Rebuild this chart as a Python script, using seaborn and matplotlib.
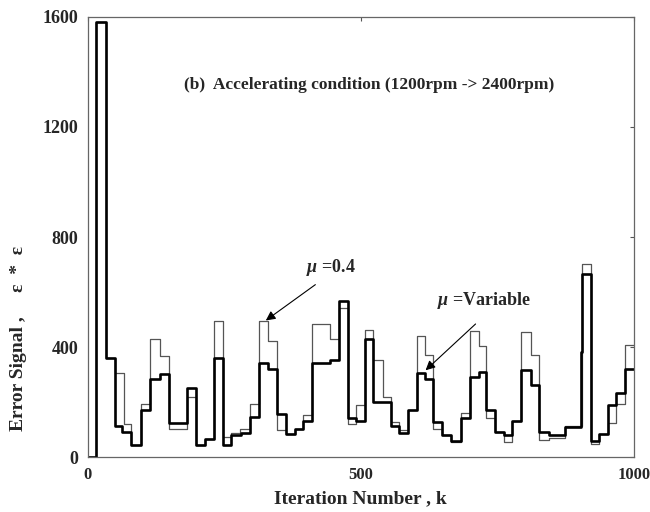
import matplotlib
matplotlib.use("Agg")
import matplotlib.pyplot as plt
import seaborn as sns
import pandas as pd

# step start (iteration k) and error value for each run
k_fixed = [0, 16, 34, 50, 66, 80, 97, 114, 132, 148, 182, 198, 215, 232, 247, 262,
           278, 297, 314, 331, 347, 363, 379, 394, 410, 443, 460, 477, 491, 508, 523,
           540, 556, 570, 587, 603, 618, 633, 648, 665, 684, 701, 716, 730, 745, 762,
           777, 794, 812, 826, 845, 874, 906, 921, 937, 952, 968, 984]
err_fixed = [0, 1580, 359, 307, 119, 46, 193, 428, 367, 102, 219, 44, 65, 496, 74, 88,
             104, 193, 496, 423, 98, 86, 104, 153, 484, 428, 544, 122, 189, 462, 355,
             219, 128, 98, 173, 440, 371, 101, 80, 55, 159, 458, 404, 141, 92, 55,
             132, 456, 371, 62, 70, 112, 702, 47, 86, 125, 193, 407]

k_var = [0, 16, 34, 50, 63, 80, 97, 114, 132, 148, 182, 198, 215, 232, 247, 262,
         280, 297, 314, 331, 347, 363, 379, 394, 410, 443, 460, 477, 491, 508, 523,
         556, 570, 587, 603, 618, 633, 648, 665, 684, 701, 716, 730, 745, 762, 777,
         794, 812, 826, 845, 874, 904, 906, 921, 937, 952, 968, 984]
err_var = [0, 1580, 359, 114, 92, 46, 173, 286, 304, 125, 250, 44, 65, 359, 44, 80,
           88, 147, 341, 322, 156, 86, 104, 132, 341, 353, 568, 143, 132, 428, 201,
           113, 88, 173, 307, 283, 128, 80, 59, 141, 292, 310, 173, 92, 80, 132,
           316, 262, 92, 80, 110, 383, 665, 59, 86, 189, 232, 322]

k_end = 1000

sns.set_style("white")
plt.rcParams['font.family'] = ['Liberation Serif', 'DejaVu Serif']
plt.rcParams['font.weight'] = 'bold'
plt.rcParams['mathtext.fontset'] = 'custom'
plt.rcParams['mathtext.it'] = 'Liberation Serif:italic:bold'
plt.rcParams['mathtext.rm'] = 'Liberation Serif:bold'

fixed = pd.DataFrame({"k": k_fixed + [k_end], "err": err_fixed + [err_fixed[-1]]})
var = pd.DataFrame({"k": k_var + [k_end], "err": err_var + [err_var[-1]]})

fig = plt.figure(figsize=(6.5, 5.12), dpi=100)
ax = fig.add_axes([0.135, 0.107, 0.84, 0.86])

sns.lineplot(data=fixed, x="k", y="err", ax=ax, drawstyle="steps-post",
             color="#555555", linewidth=0.9, estimator=None, sort=False)
sns.lineplot(data=var, x="k", y="err", ax=ax, drawstyle="steps-post",
             color="black", linewidth=1.9, estimator=None, sort=False)

ax.set_xlim(0, 1000)
ax.set_ylim(0, 1600)
ax.set_xticks([0, 500, 1000])
ax.set_yticks([0, 400, 800, 1200, 1600])
ax.tick_params(direction="in", length=3, width=0.8, labelsize=13, pad=7,
               top=True, right=True, color="#555555")
ax.tick_params(axis="x", labelsize=12)
for lab in ax.get_xticklabels() + ax.get_yticklabels():
    lab.set_fontweight("bold")
for sp in ax.spines.values():
    sp.set_color("#666666")
    sp.set_linewidth(0.9)

ax.set_xlabel("Iteration Number , k", fontsize=14, fontweight="bold", labelpad=5)
ax.set_ylabel("Error Signal ,     ε  *  ε", fontsize=14, fontweight="bold")
ax.yaxis.set_label_coords(-0.112, 0.27)

ax.text(516, 1353, "(b)  Accelerating condition (1200rpm -> 2400rpm)",
        ha="center", va="center", fontsize=12.5, fontweight="bold")

ax.annotate("", xy=(322, 491), xytext=(421, 633),
            arrowprops=dict(arrowstyle="-|>", color="black", lw=0.8,
                            mutation_scale=14))
ax.text(400, 690, r"$\mu$ =0.4", fontsize=13, fontweight="bold", va="center")

ax.annotate("", xy=(615, 309), xytext=(714, 491),
            arrowprops=dict(arrowstyle="-|>", color="black", lw=0.8,
                            mutation_scale=14))
ax.text(640, 571, r"$\mu$ =Variable", fontsize=13, fontweight="bold", va="center")

fig.savefig("out.png", dpi=100)
